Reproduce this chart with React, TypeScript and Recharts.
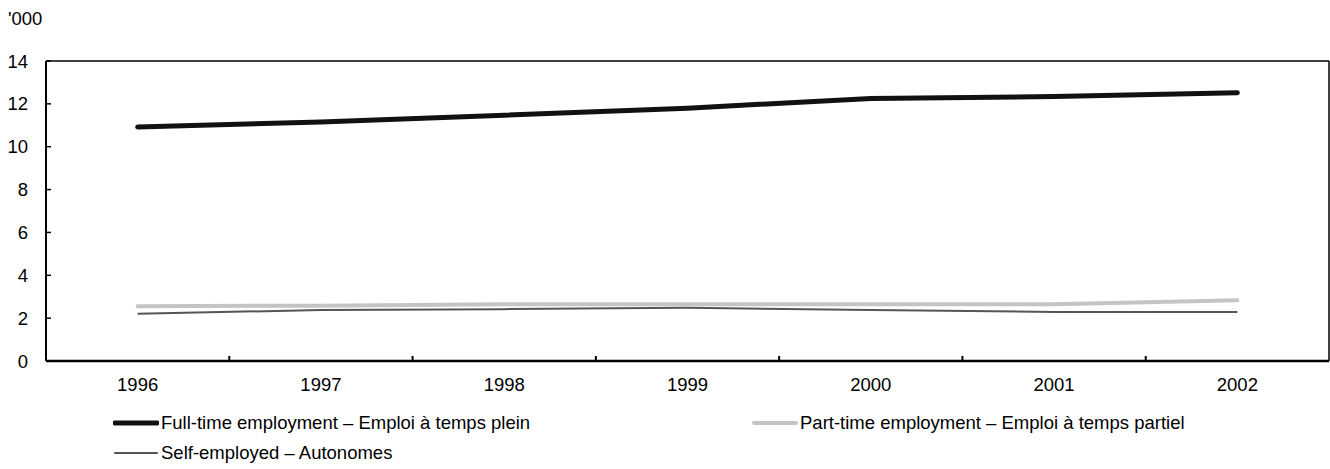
import React from 'react';
import { LineChart, Line, XAxis, YAxis, Legend, ReferenceLine } from 'recharts';

const years = ['1996', '1997', '1998', '1999', '2000', '2001', '2002'];
const fullTime = [10.92, 11.15, 11.47, 11.8, 12.25, 12.34, 12.52];
const partTime = [2.56, 2.58, 2.65, 2.65, 2.65, 2.65, 2.84];
const selfEmployed = [2.2, 2.38, 2.42, 2.48, 2.38, 2.29, 2.29];
const yTicks = [0, 2, 4, 6, 8, 10, 12, 14];
const labelFull = 'Full-time employment \u2013 Emploi \u00e0 temps plein';
const labelPart = 'Part-time employment \u2013 Emploi \u00e0 temps partiel';
const labelSelf = 'Self-employed \u2013 Autonomes';

const data = years.map((y, i) => ({
  idx: i,
  year: y,
  full: fullTime[i],
  part: partTime[i],
  self: selfEmployed[i],
}));
const yearTicks = years.map((_, i) => i);
const boundaryTicks = years.slice(1).map((_, i) => i + 0.5);

const FONT = '"Liberation Sans", Arial, sans-serif';
const FS = 18.5;

const LegendContent = (props: any) => {
  const payload = props.payload || [];
  return (
    <div style={{ width: 1400, height: 60, paddingLeft: 113, boxSizing: 'border-box', display: 'grid', gridTemplateColumns: '639px 639px', gridAutoRows: '30px', fontFamily: FONT, fontSize: FS, color: '#000' }}>
      {payload.map((p: any) => (
        <div key={p.value} style={{ height: 30, display: 'flex', alignItems: 'center' }}>
          <svg width={46} height={10} style={{ display: 'block', flex: 'none' }}>
            <line x1={2} y1={5} x2={44} y2={5} stroke={p.color} strokeWidth={p.payload.strokeWidth} strokeLinecap="round" />
          </svg>
          <span style={{ marginLeft: 2, whiteSpace: 'nowrap' }}>{p.value}</span>
        </div>
      ))}
    </div>
  );
};

export default function App() {
  return (
    <div style={{ position: 'absolute', left: 0, top: 0, width: 1330, height: 469, background: '#fff', overflow: 'hidden' }}>
      <div style={{ position: 'absolute', left: 8, top: 8, fontFamily: FONT, fontSize: FS, color: '#000' }}>'000</div>
      <LineChart width={1330} height={469} data={data} margin={{ top: 61, right: 1, left: 6, bottom: 18 }}>
        <XAxis
          xAxisId="lbl"
          dataKey="idx"
          type="number"
          domain={[-0.5, 6.5]}
          ticks={yearTicks}
          interval={0}
          tickFormatter={(v: number) => years[v] ?? ''}
          height={29}
          tickSize={0}
          tickMargin={16}
          axisLine={false}
          tickLine={false}
          tick={{ fill: '#000', fontSize: FS, fontFamily: FONT }}
        />
        <XAxis
          dataKey="idx"
          type="number"
          domain={[-0.5, 6.5]}
          ticks={boundaryTicks}
          interval={0}
          tickFormatter={() => ''}
          height={1}
          tickSize={-5}
          tickLine={{ stroke: '#000', strokeWidth: 2 }}
          axisLine={{ stroke: '#000', strokeWidth: 2.5 }}
        />
        <YAxis
          domain={[0, 14]}
          ticks={yTicks}
          interval={0}
          width={40}
          tickSize={-5}
          tickMargin={23}
          axisLine={{ stroke: '#000', strokeWidth: 2 }}
          tickLine={{ stroke: '#000', strokeWidth: 1.5 }}
          tick={{ fill: '#000', fontSize: FS, fontFamily: FONT }}
        />
        <ReferenceLine y={14} stroke="#000" strokeWidth={1.5} />
        <ReferenceLine x={6.5} stroke="#000" strokeWidth={1.5} />
        <Legend
          verticalAlign="bottom"
          content={<LegendContent />}
          wrapperStyle={{ position: 'absolute', left: 0, top: 408, bottom: 'auto', width: 1400, height: 60 }}
        />
        <Line name={labelFull} dataKey="full" stroke="#111" strokeWidth={5} strokeLinecap="round" dot={false} activeDot={false} isAnimationActive={false} />
        <Line name={labelPart} dataKey="part" stroke="#c4c4c4" strokeWidth={4} strokeLinecap="round" dot={false} activeDot={false} isAnimationActive={false} />
        <Line name={labelSelf} dataKey="self" stroke="#555" strokeWidth={2} dot={false} activeDot={false} isAnimationActive={false} />
      </LineChart>
    </div>
  );
}
